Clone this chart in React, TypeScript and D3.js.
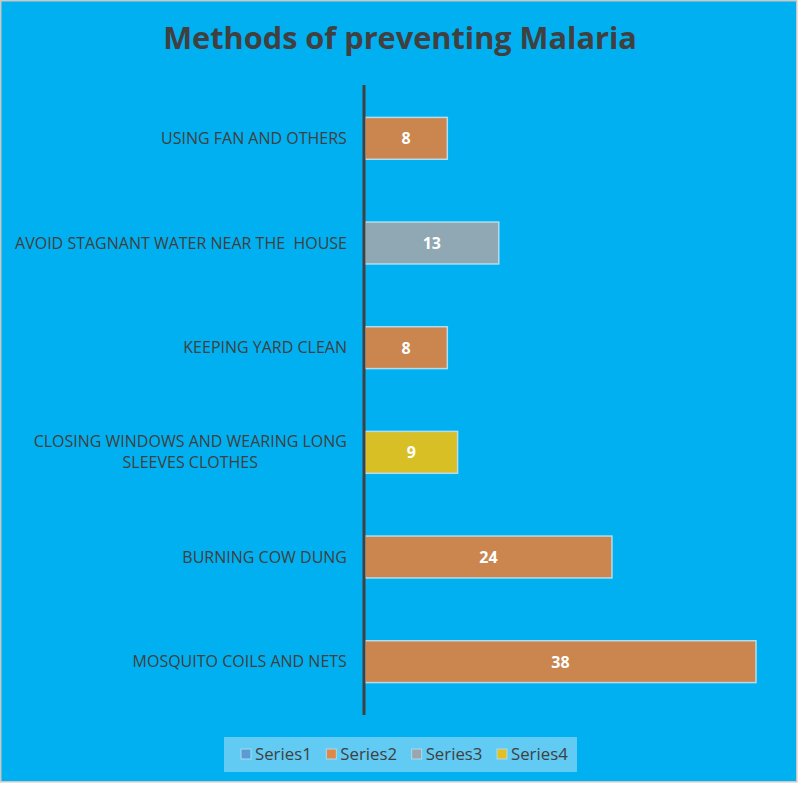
import React, { useEffect, useRef } from "react";
import * as d3 from "d3";

const categories = [
  "USING FAN AND OTHERS",
  "AVOID STAGNANT WATER NEAR THE  HOUSE",
  "KEEPING YARD CLEAN",
  "CLOSING WINDOWS AND WEARING LONG|SLEEVES CLOTHES",
  "BURNING COW DUNG",
  "MOSQUITO COILS AND NETS",
];
const values = [8, 13, 8, 9, 24, 38];
const seriesOf = ["Series2", "Series3", "Series2", "Series4", "Series2", "Series2"];
const seriesNames = ["Series1", "Series2", "Series3", "Series4"];
const barColors: Record<string, string> = {
  Series1: "#5B9BD5",
  Series2: "#CB8650",
  Series3: "#8FA8B3",
  Series4: "#D8BF26",
};
const legendColors: Record<string, string> = {
  Series1: "#5B9BD5",
  Series2: "#E0874A",
  Series3: "#9BA5AE",
  Series4: "#E3BF23",
};

const W = 800;
const H = 785;

export default function App() {
  const ref = useRef<SVGSVGElement>(null);
  useEffect(() => {
    const svg = d3.select(ref.current);
    svg.selectAll("*").remove();
    const font = "'Open Sans', sans-serif";

    svg.append("rect").attr("x", 0.75).attr("y", 0.75).attr("width", W - 4).attr("height", H - 4)
      .attr("fill", "#00B0F0").attr("stroke", "#C8C8C8").attr("stroke-width", 1.5);

    svg.append("text").attr("x", 400).attr("y", 49).attr("text-anchor", "middle")
      .attr("font-family", font).attr("font-weight", 700).attr("font-size", 30.7)
      .attr("fill", "#404040").text("Methods of preventing Malaria");

    const x = d3.scaleLinear().domain([0, 38]).range([365, 756]);
    const y = d3.scaleBand().domain(categories).range([86, 714]).paddingInner(0.6).paddingOuter(0.3);

    const g = svg.append("g");
    g.selectAll("rect.bar").data(categories).join("rect")
      .attr("class", "bar")
      .attr("x", x(0))
      .attr("y", (d) => y(d)!)
      .attr("width", (_, i) => x(values[i]) - x(0))
      .attr("height", y.bandwidth())
      .attr("fill", (_, i) => barColors[seriesOf[i]])
      .attr("stroke", "#B5DCEC").attr("stroke-width", 1.5);

    g.selectAll("text.val").data(categories).join("text")
      .attr("class", "val")
      .attr("x", (_, i) => (x(0) + x(values[i])) / 2)
      .attr("y", (d) => y(d)! + y.bandwidth() / 2 + 6)
      .attr("text-anchor", "middle")
      .attr("font-family", font).attr("font-weight", 700).attr("font-size", 16)
      .attr("fill", "#FFFFFF")
      .text((_, i) => String(values[i]));

    categories.forEach((c) => {
      const lines = c.split("|");
      const cy = y(c)! + y.bandwidth() / 2;
      const lh = 21;
      const t = svg.append("text").attr("text-anchor", "middle")
        .attr("font-family", font).attr("font-size", 16).attr("fill", "#404040")
        .style("white-space", "pre");
      lines.forEach((ln, k) => {
        t.append("tspan").attr("x", 0).attr("y", cy + 5.5 + (k - (lines.length - 1) / 2) * lh).text(ln);
      });
      const bb = (t.node() as SVGTextElement).getBBox();
      const right = 347;
      const center = right - bb.width / 2;
      t.selectAll("tspan").attr("x", center);
    });

    svg.append("line").attr("x1", x(0) - 1).attr("x2", x(0) - 1).attr("y1", 85).attr("y2", 715)
      .attr("stroke", "#404040").attr("stroke-width", 3);

    const lg = svg.append("g");
    lg.append("rect").attr("x", 224).attr("y", 737).attr("width", 353).attr("height", 35)
      .attr("fill", "#61CBF4");
    const lx = d3.scalePoint().domain(seriesNames).range([241, 497]);
    seriesNames.forEach((s) => {
      const px = lx(s)!;
      lg.append("rect").attr("x", px).attr("y", 749).attr("width", 10).attr("height", 10)
        .attr("fill", legendColors[s]).attr("stroke", "#A8DCF2").attr("stroke-width", 1);
      lg.append("text").attr("x", px + 14).attr("y", 760)
        .attr("font-family", font).attr("font-size", 16.8).attr("fill", "#404040").text(s);
    });
  }, []);
  return (
    <svg
      ref={ref}
      width={W}
      height={H}
      style={{ display: "block", position: "absolute", left: 0, top: 0 }}
    />
  );
}
